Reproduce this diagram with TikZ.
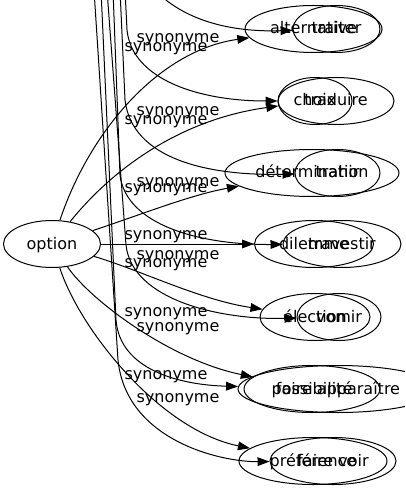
\documentclass[tikz,border=0pt]{standalone}
\usepackage{fontspec}
\setmainfont{DejaVu Sans}
\usetikzlibrary{arrows.meta,shapes.geometric}
\begin{document}
\begin{tikzpicture}[x=0.75pt,y=-0.75pt,
  every node/.style={font=\fontsize{12pt}{14pt}\selectfont},
  ell/.style={draw, ellipse, line width=0.75pt, inner sep=0pt, minimum height=35.25pt, text height=9pt, text depth=1.5pt},
  lab/.style={anchor=base, inner sep=0pt},
  syn/.style={line width=0.75pt, -{Triangle[length=9pt,width=6.5pt]}}]
\useasboundingbox (0,0) rectangle (405,491);
\clip (0,0) rectangle (405,491);
% option graph
\node[ell, minimum width=72.75pt] (option) at (52,244) {option};
\node[ell, minimum width=102.75pt] (alternative) at (313.5,29) {alternative};
\node[ell, minimum width=55.5pt] (choix) at (315,101) {choix};
\node[ell, minimum width=130.5pt] (determination) at (312,173) {détermination};
\node[ell, minimum width=89.25pt] (dilemme) at (314,244) {dilemme};
\node[ell, minimum width=82.5pt] (election) at (315,317) {élection};
\node[ell, minimum width=102pt] (possibilite) at (312,389) {possibilité};
\node[ell, minimum width=111pt] (preference) at (313,461) {préférence};
% second graph
\node[ell, minimum width=65.25pt] (traiter) at (336.5,29) {traiter};
\node[ell, minimum width=87pt] (traduire) at (336,101) {traduire};
\node[ell, minimum width=63.75pt] (trahir) at (337.5,173) {trahir};
\node[ell, minimum width=88.5pt] (travestir) at (342,244) {travestir};
\node[ell, minimum width=63pt] (vomir) at (339,317) {vomir};
\node[ell, minimum width=150pt] (fapp) at (338,389) {faire apparaître};
\node[ell, minimum width=94.5pt] (fvoir) at (333,461) {faire voir};
% labels, option graph
\node[lab] (la1) at (166,51.5) {synonyme};
\node[lab] (la2) at (166,124.5) {synonyme};
\node[lab] (la3) at (166,192.5) {synonyme};
\node[lab] (la4) at (166,239.5) {synonyme};
\node[lab] (la5) at (166,267.5) {synonyme};
\node[lab] (la6) at (166,316.5) {synonyme};
\node[lab] (la7) at (166,379.5) {synonyme};
% labels, second graph
\node[lab] (lb1) at (178,42.5) {synonyme};
\node[lab] (lb2) at (178,115.5) {synonyme};
\node[lab] (lb3) at (178,186.5) {synonyme};
\node[lab] (lb4) at (178,259.5) {synonyme};
\node[lab] (lb5) at (178,331.5) {synonyme};
\node[lab] (lb6) at (178,402.5) {synonyme};
% option edges
\draw[syn] (option) .. controls (90,130) and (160,50) .. (alternative);
\draw[syn] (option) .. controls (120,160) and (190,118) .. (choix);
\draw[syn] (option) .. controls (140,215) and (190,195) .. (determination);
\draw[syn] (option) -- (dilemme);
\draw[syn] (option) .. controls (140,270) and (200,300) .. (election);
\draw[syn] (option) .. controls (90,300) and (170,360) .. (possibilite);
\draw[syn] (option) .. controls (80,330) and (160,430) .. (preference);
% second graph edges, source above the frame
\coordinate (s0) at (150,-15);
\coordinate (s1) at (125,-10);
\coordinate (s2) at (120,-10);
\coordinate (s3) at (113,-10);
\coordinate (s4) at (107,-10);
\coordinate (s5) at (101,-10);
\coordinate (s6) at (94,-10);
\draw[syn] (s0) .. controls (185,25) and (240,32) .. (traiter);
\draw[syn] (s1) -- (127,30) .. controls (132,80) and (200,101) .. (traduire);
\draw[syn] (s2) -- (125,100) .. controls (132,160) and (210,176) .. (trahir);
\draw[syn] (s3) -- (120,175) .. controls (126,225) and (200,245) .. (travestir);
\draw[syn] (s4) -- (126,245) .. controls (132,300) and (220,320) .. (vomir);
\draw[syn] (s5) -- (116,320) .. controls (120,370) and (180,385) .. (fapp);
\draw[syn] (s6) -- (118,360) .. controls (126,440) and (220,462) .. (fvoir);
\end{tikzpicture}
\end{document}
